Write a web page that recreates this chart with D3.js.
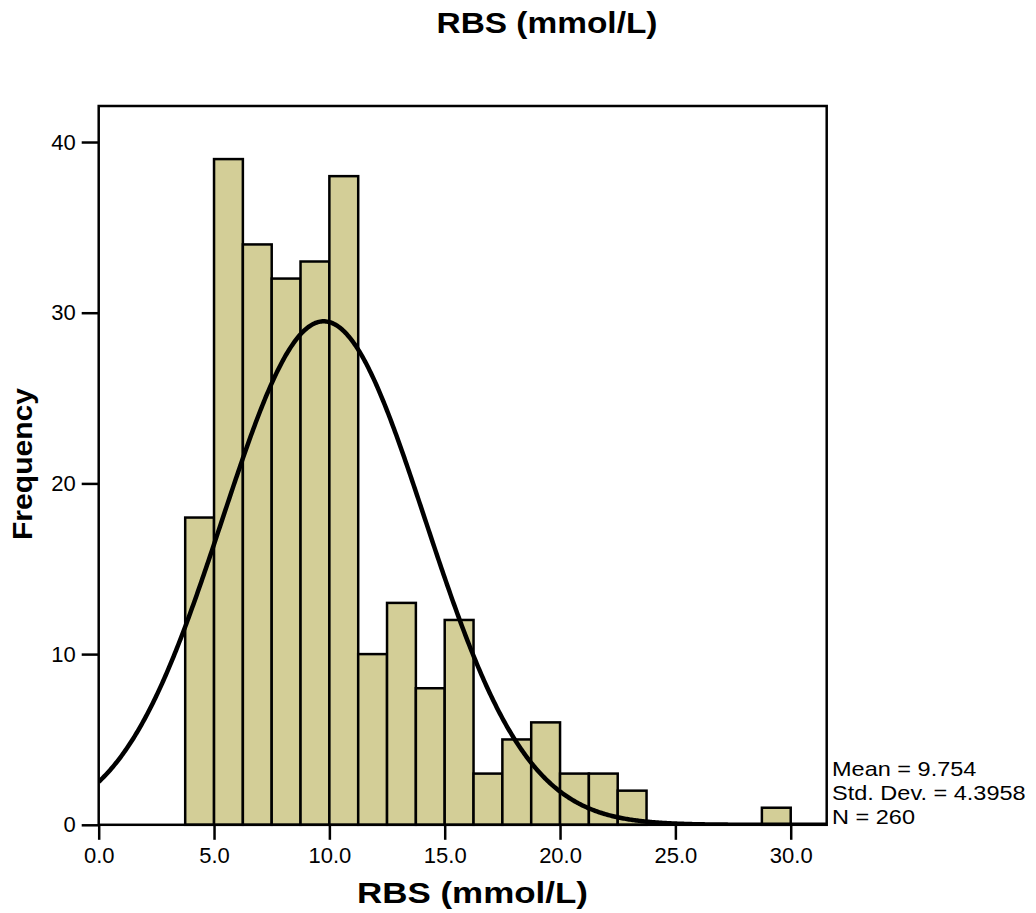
<!DOCTYPE html>
<html><head><meta charset="utf-8">
<script src="https://cdn.jsdelivr.net/npm/d3@7"></script>
<style>body{margin:0;background:#fff}svg{display:block;font-family:"Liberation Sans",Arial,sans-serif}</style>
</head><body><svg id="c" width="1036" height="913"></svg>
<script>
const binStarts = [3.75,5,6.25,7.5,8.75,10,11.25,12.5,13.75,15,16.25,17.5,18.75,20,21.25,22.5,23.75,25,26.25,27.5,28.75];
const binWidth = 1.25;
const counts = [18,39,34,32,33,38,10,13,8,12,3,5,6,3,3,2,0,0,0,0,1];
const xTicks = [0,5,10,15,20,25,30];
const yTicks = [0,10,20,30,40];
const stats = {mean:9.754, sd:4.3958, n:260};
const statLabels = ["Mean = 9.754","Std. Dev. = 4.3958","N = 260"];

const svg = d3.select("#c");
const L=98.7, R=826.7, T=106, B=824.8;
const x = d3.scaleLinear().domain([0,31.56]).range([L,R]);
const y = d3.scaleLinear().domain([0,42.11]).range([B,T]);

svg.append("clipPath").attr("id","clip").append("rect")
  .attr("x",L).attr("y",T).attr("width",R-L).attr("height",B-T);

// bars
svg.append("g").selectAll("rect").data(counts.map((c,i)=>({x0:binStarts[i],c})).filter(d=>d.c>0))
  .join("rect")
  .attr("x",d=>x(d.x0)).attr("width",d=>x(d.x0+binWidth)-x(d.x0))
  .attr("y",d=>y(d.c)).attr("height",d=>y(0)-y(d.c))
  .attr("fill","#d3ce97").attr("stroke","#000").attr("stroke-width",2.5);

// normal curve
const scale = stats.n*binWidth/(stats.sd*Math.sqrt(2*Math.PI));
const pts = d3.range(0,31.6,0.05).map(v=>[v, scale*Math.exp(-0.5*Math.pow((v-stats.mean)/stats.sd,2))]);
svg.append("path").datum(pts).attr("clip-path","url(#clip)")
  .attr("d",d3.line().x(d=>x(d[0])).y(d=>y(d[1])))
  .attr("fill","none").attr("stroke","#000").attr("stroke-width",4.5);

// frame
svg.append("rect").attr("x",L).attr("y",T).attr("width",R-L).attr("height",B-T)
  .attr("fill","none").attr("stroke","#000").attr("stroke-width",2.5);

// axes
const xa = svg.append("g").attr("transform",`translate(0,${B})`)
  .call(d3.axisBottom(x).tickValues(xTicks).tickFormat(d3.format(".1f")).tickSize(15).tickPadding(8));
const ya = svg.append("g").attr("transform",`translate(${L},0)`)
  .call(d3.axisLeft(y).tickValues(yTicks).tickSize(17).tickPadding(6));
[xa,ya].forEach(a=>{
  a.select(".domain").remove();
  a.selectAll(".tick line").attr("stroke","#000").attr("stroke-width",2.5);
  a.selectAll(".tick text").attr("fill","#000").attr("font-size",22).attr("font-family","Liberation Sans, Arial, sans-serif");
});

// titles
svg.append("text").attr("x",547).attr("y",33).attr("text-anchor","middle")
  .attr("font-size",29).attr("font-weight","bold")
  .attr("textLength",221).attr("lengthAdjust","spacingAndGlyphs").text("RBS (mmol/L)");
svg.append("text").attr("x",472.5).attr("y",903).attr("text-anchor","middle")
  .attr("font-size",29).attr("font-weight","bold")
  .attr("textLength",231).attr("lengthAdjust","spacingAndGlyphs").text("RBS (mmol/L)");
svg.append("text").attr("transform","translate(32,464) rotate(-90)").attr("text-anchor","middle")
  .attr("font-size",28).attr("font-weight","bold")
  .attr("textLength",152).attr("lengthAdjust","spacingAndGlyphs").text("Frequency");

// stats
svg.append("g").attr("transform","translate(832,0) scale(1.12,1)")
  .selectAll("text").data(statLabels).join("text")
  .attr("x",0).attr("y",(d,i)=>776+i*24).attr("font-size",21).text(d=>d);
</script></body></html>
